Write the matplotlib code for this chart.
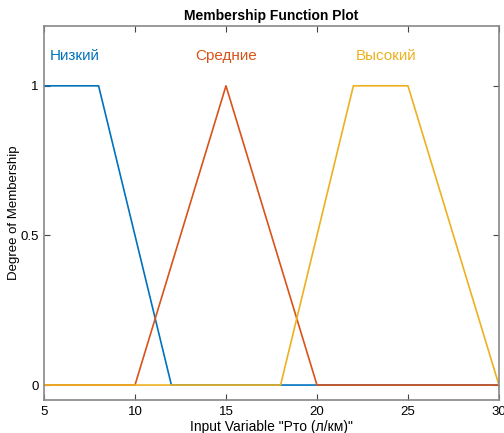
import matplotlib
matplotlib.use('Agg')
import matplotlib.pyplot as plt

plt.rcParams['font.family'] = ['Liberation Sans', 'DejaVu Sans']

# membership functions (breakpoints)
low_x = [5, 8, 12, 30]
low_y = [1, 1, 0, 0]
mid_x = [5, 10, 15, 20, 30]
mid_y = [0, 0, 1, 0, 0]
high_x = [5, 18, 22, 25, 30]
high_y = [0, 0, 1, 1, 0]

names = ['Низкий', 'Средние', 'Высокий']
label_x = [6.7, 15, 23.8]
colors = ['#0072BD', '#D95319', '#EDB120']

fig = plt.figure(figsize=(5.04, 4.33), dpi=100)
ax = fig.add_axes([0.0873, 0.0762, 0.9027, 0.8638])

for xs, ys, c in zip([low_x, mid_x, high_x], [low_y, mid_y, high_y], colors):
    ax.plot(xs, ys, color=c, lw=1.2)

for name, lx, c in zip(names, label_x, colors):
    ax.text(lx, 1.1, name, color=c, ha='center', va='center', fontsize=11)

ax.set_xlim(5, 30)
ax.set_ylim(-0.05, 1.2)
ax.set_xticks([5, 10, 15, 20, 25, 30])
ax.set_yticks([0, 0.5, 1])
ax.set_yticklabels(['0', '0.5', '1'])
ax.tick_params(direction='in', top=True, right=True, labelsize=9.5, color='#444444', length=4, pad=4)
for s in ax.spines.values():
    s.set_color('#888888')
    s.set_linewidth(1.2)

ax.set_title('Membership Function Plot', fontsize=10, fontweight='bold', pad=4)
ax.set_xlabel('Input Variable "Pто (л/км)"', fontsize=10, labelpad=2)
ax.set_ylabel('Degree of Membership', fontsize=9.5, labelpad=0)

fig.savefig('out.png', dpi=100)
